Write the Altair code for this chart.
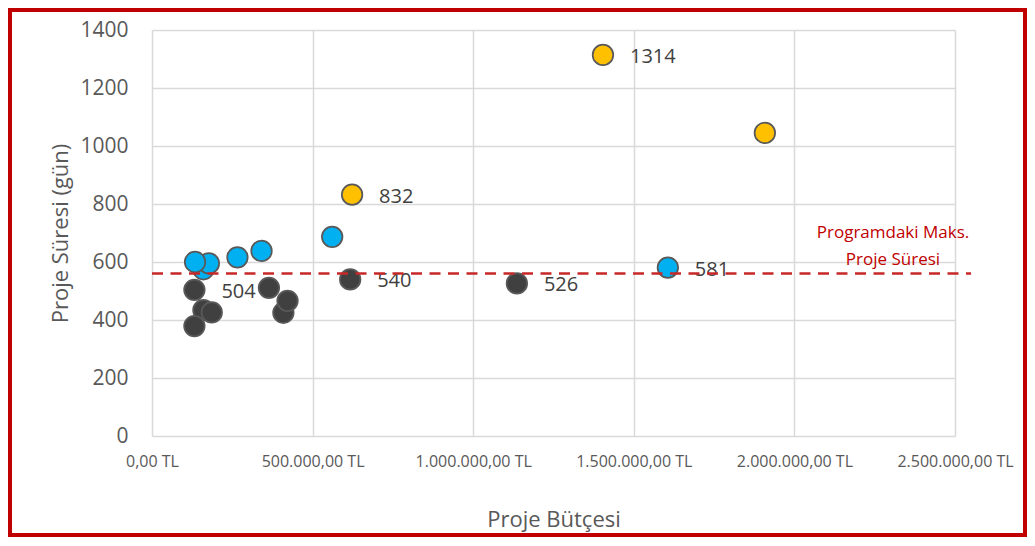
import altair as alt
import pandas as pd

# ---- data ----
budget_dark = [132000, 160000, 186000, 132000, 364000, 409000, 422000, 617000, 1136000]
duration_dark = [504, 434, 426, 379, 511, 425, 466, 540, 526]
label_dark = ["504", "", "", "", "", "", "", "540", "526"]

budget_blue = [160000, 177000, 134000, 266000, 341000, 561000, 1606000]
duration_blue = [575, 595, 600, 616, 638, 687, 581]
label_blue = ["", "", "", "", "", "", "581"]

budget_yellow = [623000, 1404000, 1908000]
duration_yellow = [832, 1314, 1045]
label_yellow = ["832", "1314", ""]

groups = ["dark", "blue", "yellow"]
group_colors = ["#404040", "#00B0F0", "#FFC000"]

max_duration = 560
annotation_lines = ["Programdaki Maks.", "Proje Süresi"]

x_ticks = [0, 500000, 1000000, 1500000, 2000000, 2500000]
x_tick_labels = ["0,00 TL", "500.000,00 TL", "1.000.000,00 TL",
                 "1.500.000,00 TL", "2.000.000,00 TL", "2.500.000,00 TL"]
y_ticks = [0, 200, 400, 600, 800, 1000, 1200, 1400]

x_title = "Proje Bütçesi"
y_title = "Proje Süresi (gün)"

# ---- build table ----
rows = []
order = 0
for g, bs, ds, ls in [("dark", budget_dark, duration_dark, label_dark),
                      ("blue", budget_blue, duration_blue, label_blue),
                      ("yellow", budget_yellow, duration_yellow, label_yellow)]:
    for b, d, l in zip(bs, ds, ls):
        rows.append({"budget": b, "duration": d, "group": g, "label": l, "order": order})
        order += 1
df = pd.DataFrame(rows)

FONT = "Open Sans"
W, H = 803, 406
PAD = {"left": 144, "top": 22, "right": 72, "bottom": 101}

label_js = "[" + ",".join("'" + s + "'" for s in x_tick_labels) + "]"

x_enc = alt.X(
    "budget:Q",
    scale=alt.Scale(domain=[0, 2500000], nice=False, zero=True),
    axis=alt.Axis(
        values=x_ticks,
        labelExpr=label_js + "[round(datum.value / 500000)]",
        title=x_title,
        grid=True, gridColor="#D9D9D9", gridWidth=1.5,
        domain=False, ticks=False, tickSize=0,
        labelFont=FONT, labelFontSize=16, labelColor="#595959", labelPadding=17,
        labelFlush=False,
        titleFont=FONT, titleFontSize=22, titleFontWeight="normal", titleColor="#595959",
        titleX=W / 2, titleY=83, titleBaseline="middle", titleAnchor="middle",
    ),
)
y_enc = alt.Y(
    "duration:Q",
    scale=alt.Scale(domain=[0, 1400], nice=False),
    axis=alt.Axis(
        values=y_ticks,
        format="d",
        title=y_title,
        grid=True, gridColor="#D9D9D9", gridWidth=1.5,
        domain=False, ticks=False, tickSize=0,
        labelFont=FONT, labelFontSize=21, labelColor="#595959", labelPadding=24,
        titleFont=FONT, titleFontSize=22, titleFontWeight="normal", titleColor="#595959",
        titleX=-92, titleY=H / 2, titleBaseline="middle", titleAngle=-90, titleAnchor="middle",
    ),
)

base = alt.Chart(df)

points = base.mark_point(
    shape="circle", filled=True, opacity=1, size=420,
    stroke="#595959", strokeWidth=1.75,
).encode(
    x=x_enc, y=y_enc,
    color=alt.Color("group:N", scale=alt.Scale(domain=groups, range=group_colors), legend=None),
    order=alt.Order("order:Q"),
)

labels = base.mark_text(
    align="left", baseline="middle", dx=27, dy=2,
    font=FONT, fontSize=20, color="#404040",
).encode(x="budget:Q", y="duration:Q", text="label:N")

rule = alt.Chart(pd.DataFrame({"v": [max_duration]})).mark_rule(
    color="#C62828", strokeWidth=2.5, strokeDash=[11, 7.5]
).encode(
    y="v:Q", x=alt.datum(0), x2=alt.datum(2550000)
)

annotation = alt.Chart(pd.DataFrame({"a": [0]})).mark_text(
    align="center", baseline="middle", font=FONT, fontSize=17,
    color="#C00000", lineHeight=27,
).encode(
    x=alt.datum(2307000), y=alt.datum(700), text=alt.value(annotation_lines)
)

border = alt.Chart(pd.DataFrame({"a": [0]})).mark_rect(
    fill=None, stroke="#C00000", strokeWidth=4
).encode(
    x=alt.value(-PAD["left"] + 2), x2=alt.value(W + PAD["right"] - 2),
    y=alt.value(-PAD["top"] + 2), y2=alt.value(H + PAD["bottom"] - 2),
)

chart = alt.layer(points, labels, rule, annotation, border).properties(
    width=W, height=H,
    padding=PAD,
    autosize=alt.AutoSizeParams(type="none"),
    background="white",
).configure_view(stroke=None)

chart.save("out.html", embed_options={"renderer": "svg", "actions": False})
